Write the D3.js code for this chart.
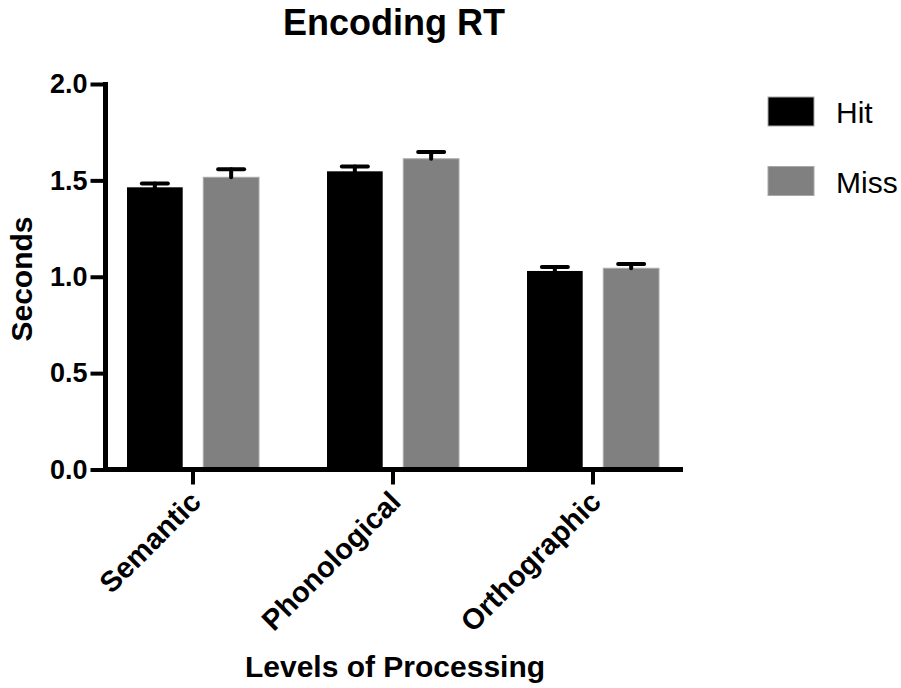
<!DOCTYPE html>
<html>
<head>
<meta charset="utf-8">
<script src="https://cdn.jsdelivr.net/npm/d3@7"></script>
<style>
  body { margin: 0; background: #fff; }
  svg { display: block; font-family: "Liberation Sans", Arial, sans-serif; }
</style>
</head>
<body>
<svg></svg>
<script>
const w = 901;
const h = 688;

// data
const categories = ['Semantic', 'Phonological', 'Orthographic'];
const groups = ['Hit', 'Miss'];
const hitMeans = [1.464, 1.547, 1.030];
const hitErr = [0.020, 0.025, 0.020];
const missMeans = [1.516, 1.612, 1.044];
const missErr = [0.042, 0.035, 0.022];
const yTicks = [0, 0.5, 1.0, 1.5, 2.0];
const colors = { Hit: '#000000', Miss: '#808080' };

const rows = categories.map((c, i) => ({
  cat: c,
  vals: [
    { g: 'Hit', v: hitMeans[i], e: hitErr[i] },
    { g: 'Miss', v: missMeans[i], e: missErr[i] }
  ]
}));

const svg = d3.select('svg')
  .attr('width', w)
  .attr('height', h)

// Scales
const x = d3.scaleBand()
  .domain(categories)
  .range([93, 693])

const xSub = d3.scaleBand()
  .domain(groups)
  .range([-66, 66])
  .paddingInner(0.27)

const y = d3.scaleLinear()
  .domain([0, 2])
  .range([469.5, 84])

// Bars
const g = svg.selectAll('.grp')
  .data(rows)
  .enter()
  .append('g')
  .attr('class', 'grp')
  .attr('transform', d => 'translate(' + (x(d.cat) + x.bandwidth() / 2) + ',0)')

g.selectAll('rect')
  .data(d => d.vals)
  .enter()
  .append('rect')
  .attr('x', d => xSub(d.g))
  .attr('width', xSub.bandwidth())
  .attr('y', d => y(d.v))
  .attr('height', d => y(0) - y(d.v))
  .attr('fill', d => colors[d.g])
  .attr('stroke', d => d.g === 'Miss' ? '#a8a8a8' : 'none')
  .attr('stroke-width', 1)

// Error bars (upper only)
const eb = g.selectAll('.err')
  .data(d => d.vals)
  .enter()
  .append('g')
  .attr('class', 'err')
  .attr('stroke', '#000')
  .attr('stroke-width', 4)
  .attr('stroke-linecap', 'round')

eb.append('line')
  .attr('x1', d => xSub(d.g) + xSub.bandwidth() / 2)
  .attr('x2', d => xSub(d.g) + xSub.bandwidth() / 2)
  .attr('y1', d => y(d.v))
  .attr('y2', d => y(d.v + d.e))

eb.append('line')
  .attr('x1', d => xSub(d.g) + xSub.bandwidth() / 2 - 13)
  .attr('x2', d => xSub(d.g) + xSub.bandwidth() / 2 + 13)
  .attr('y1', d => y(d.v + d.e))
  .attr('y2', d => y(d.v + d.e))

// Axes
const yAxis = d3.axisLeft(y)
  .tickValues(yTicks)
  .tickFormat(d3.format('.1f'))
  .tickSize(15)
  .tickPadding(3)

const ya = svg.append('g')
  .attr('transform', 'translate(105.5,0)')
  .call(yAxis)

ya.select('.domain').remove()
ya.selectAll('.tick line').attr('stroke', '#000').attr('stroke-width', 4)
ya.selectAll('.tick text')
  .attr('fill', '#000')
  .attr('font-size', '27px')
  .attr('font-weight', 'bold')
  .attr('font-family', '"Liberation Sans", Arial, sans-serif')

svg.append('line')
  .attr('x1', 105.5).attr('x2', 105.5)
  .attr('y1', y(2) - 2).attr('y2', y(0) + 2.5)
  .attr('stroke', '#000').attr('stroke-width', 5)

const xAxis = d3.axisBottom(x)
  .tickSize(15)
  .tickFormat('')

const xa = svg.append('g')
  .attr('transform', 'translate(0,' + y(0) + ')')
  .call(xAxis)

xa.select('.domain').remove()
xa.selectAll('.tick line').attr('stroke', '#000').attr('stroke-width', 4)

svg.append('line')
  .attr('x1', 103).attr('x2', 683)
  .attr('y1', y(0)).attr('y2', y(0))
  .attr('stroke', '#000').attr('stroke-width', 5)

// category labels, rotated
svg.selectAll('.cat')
  .data(categories)
  .enter()
  .append('text')
  .attr('class', 'cat')
  .attr('transform', d => 'translate(' + (x(d) + x.bandwidth() / 2 - 5) + ',' + 489 + ') rotate(-45)')
  .attr('text-anchor', 'end')
  .attr('dy', '0.71em')
  .attr('font-size', '29px')
  .attr('font-weight', 'bold')
  .text(d => d)

// titles
svg.append('text')
  .attr('x', 394).attr('y', 35)
  .attr('text-anchor', 'middle')
  .attr('font-size', '36px')
  .attr('font-weight', 'bold')
  .text('Encoding RT')

svg.append('text')
  .attr('x', 395).attr('y', 677)
  .attr('text-anchor', 'middle')
  .attr('font-size', '30px')
  .attr('font-weight', 'bold')
  .text('Levels of Processing')

svg.append('text')
  .attr('transform', 'translate(32,' + 279 + ') rotate(-90)')
  .attr('text-anchor', 'middle')
  .attr('font-size', '30px')
  .attr('font-weight', 'bold')
  .text('Seconds')

// Legend
const legend = svg.append('g')
  .attr('transform', 'translate(768,97)')

const li = legend.selectAll('g')
  .data(groups)
  .enter()
  .append('g')
  .attr('transform', (d, i) => 'translate(0,' + (i * 69.5) + ')')

li.append('rect')
  .attr('width', 46)
  .attr('height', 29)
  .attr('fill', d => colors[d])
  .attr('stroke', '#a8a8a8')
  .attr('stroke-width', 1)

li.append('text')
  .attr('x', 68)
  .attr('y', 26)
  .attr('font-size', '30px')
  .text(d => d)
</script>
</body>
</html>
